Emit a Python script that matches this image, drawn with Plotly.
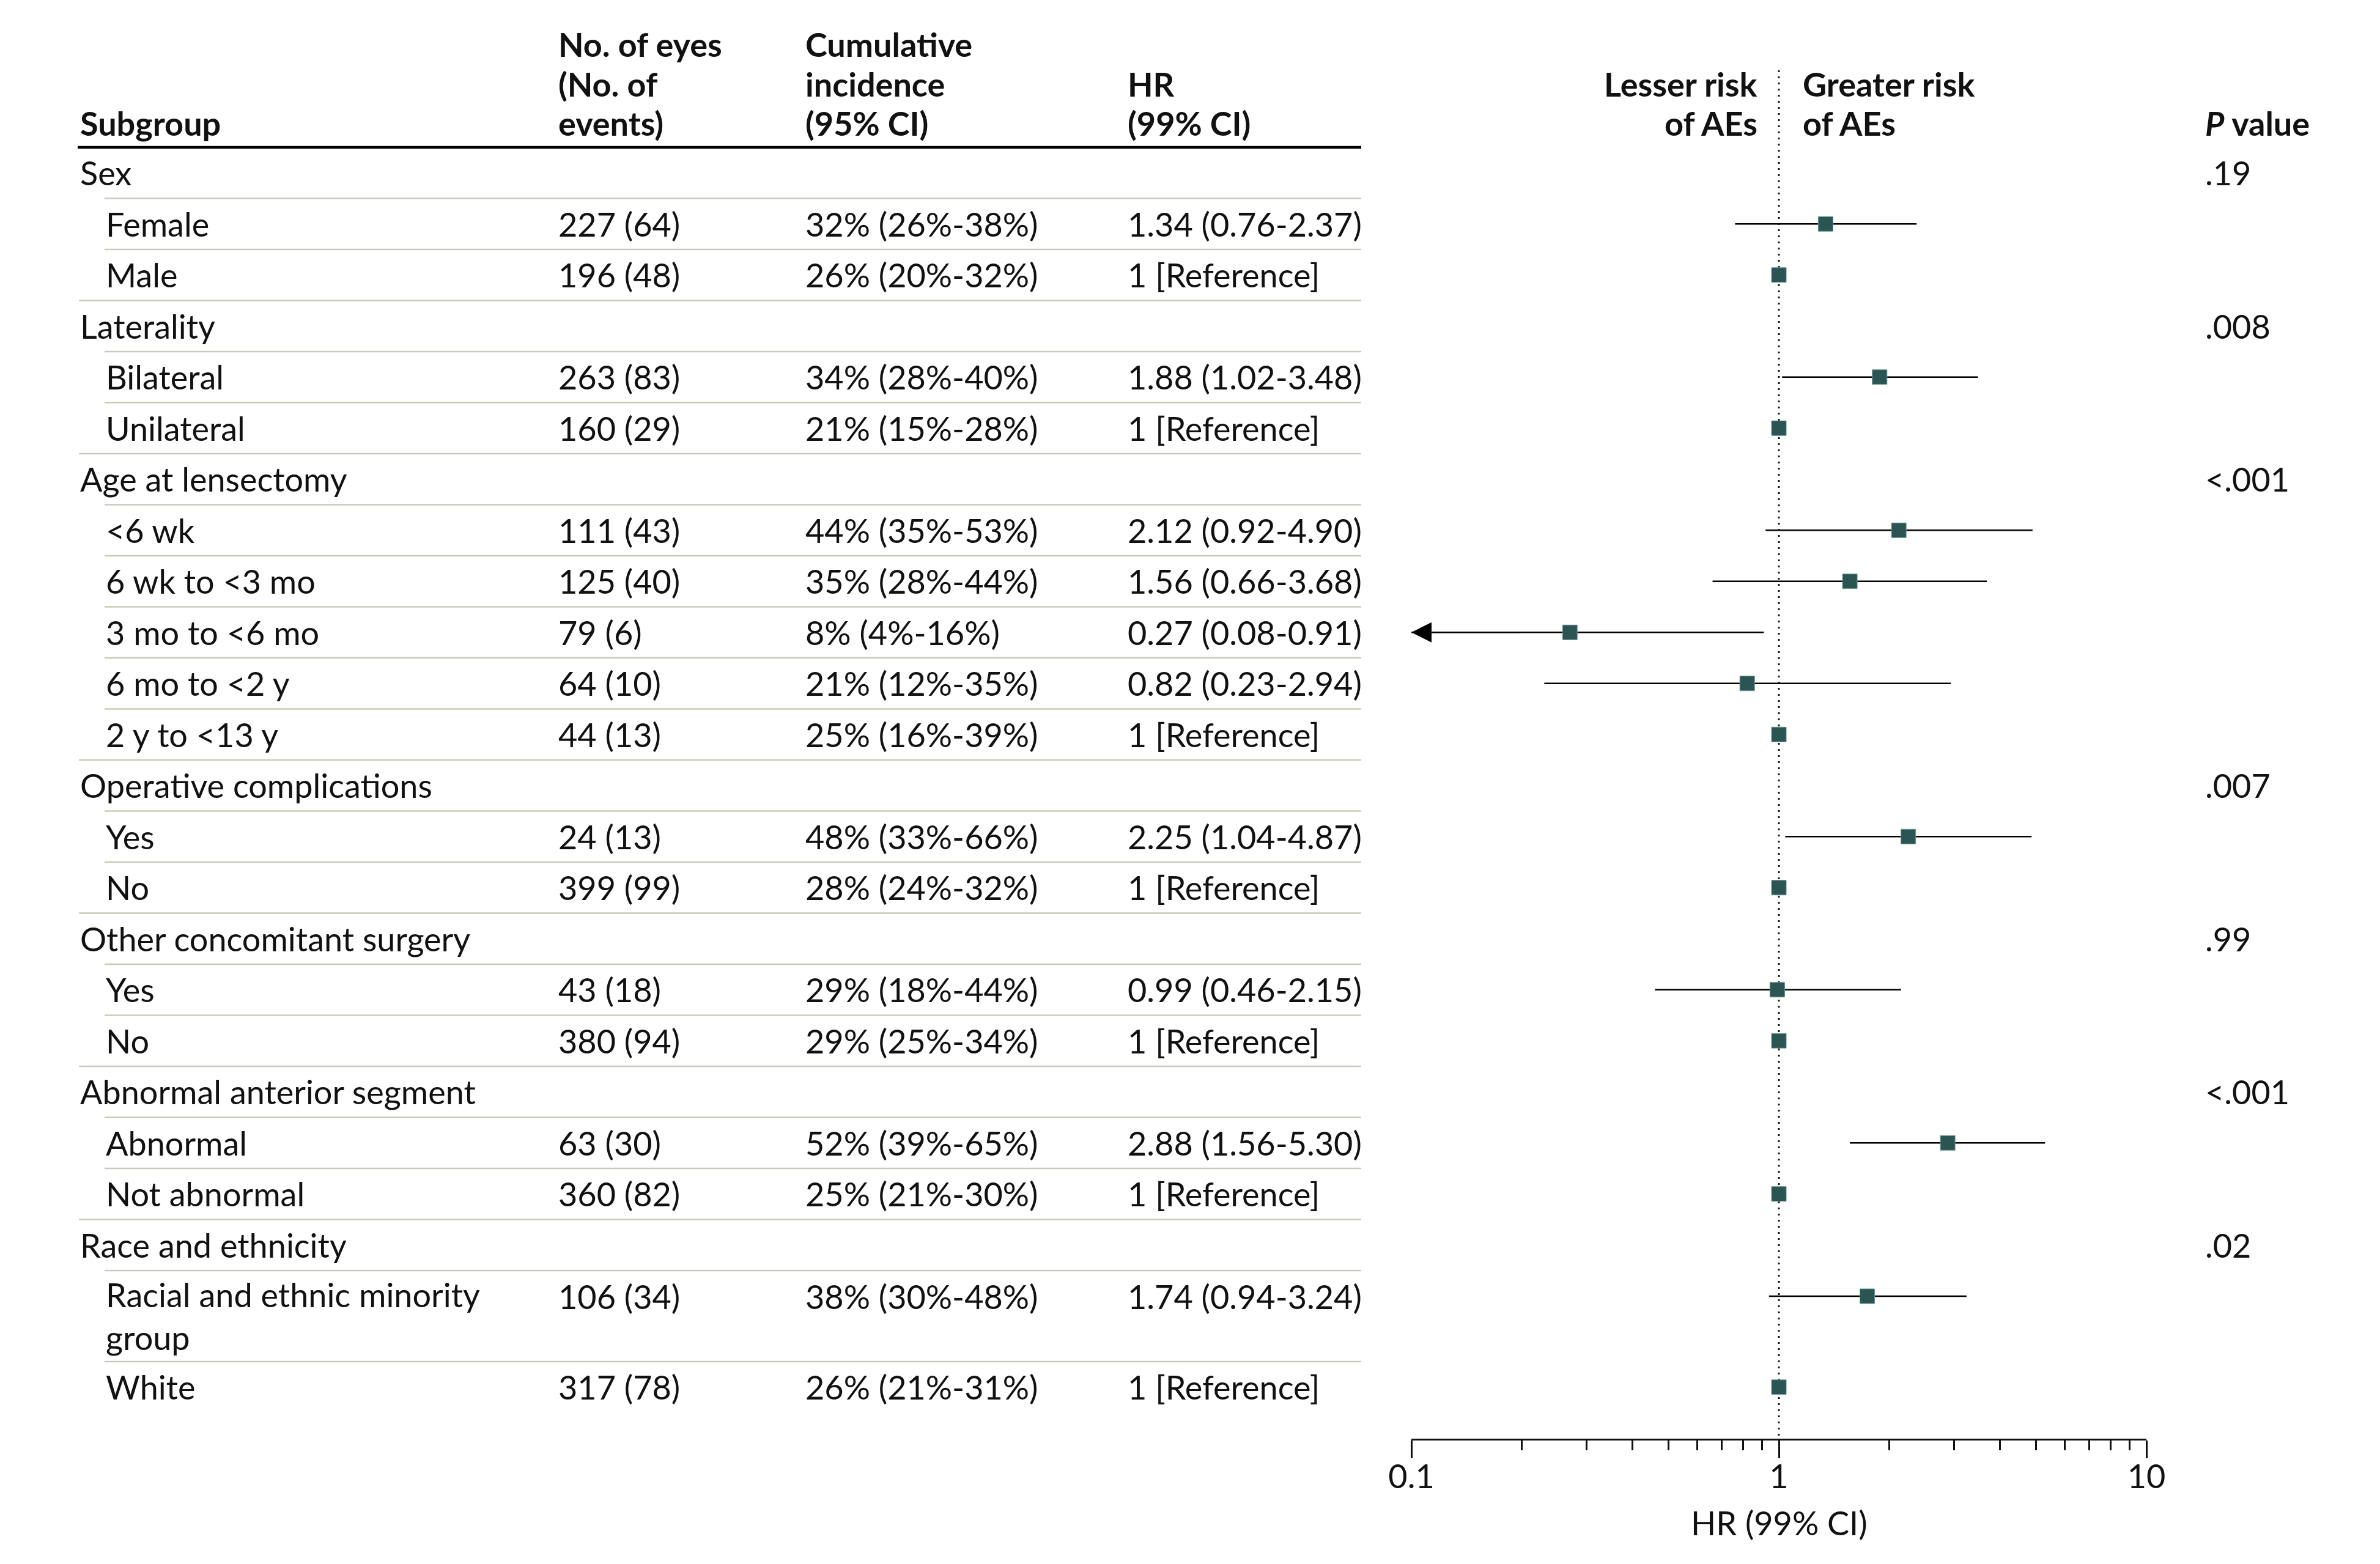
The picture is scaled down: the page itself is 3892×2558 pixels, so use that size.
import plotly.graph_objects as go
import math

# ---------------- data ----------------
subgroups = ["Sex", "Female", "Male", "Laterality", "Bilateral", "Unilateral",
             "Age at lensectomy", "<6 wk", "6 wk to <3 mo", "3 mo to <6 mo", "6 mo to <2 y", "2 y to <13 y",
             "Operative complications", "Yes", "No",
             "Other concomitant surgery", "Yes", "No",
             "Abnormal anterior segment", "Abnormal", "Not abnormal",
             "Race and ethnicity", "Racial and ethnic minority<br>group", "White"]
is_category = [True, False, False, True, False, False,
               True, False, False, False, False, False,
               True, False, False, True, False, False,
               True, False, False, True, False, False]
n_eyes = ["", "227 (64)", "196 (48)", "", "263 (83)", "160 (29)",
          "", "111 (43)", "125 (40)", "79 (6)", "64 (10)", "44 (13)",
          "", "24 (13)", "399 (99)", "", "43 (18)", "380 (94)",
          "", "63 (30)", "360 (82)", "", "106 (34)", "317 (78)"]
cum_inc = ["", "32% (26%-38%)", "26% (20%-32%)", "", "34% (28%-40%)", "21% (15%-28%)",
           "", "44% (35%-53%)", "35% (28%-44%)", "8% (4%-16%)", "21% (12%-35%)", "25% (16%-39%)",
           "", "48% (33%-66%)", "28% (24%-32%)", "", "29% (18%-44%)", "29% (25%-34%)",
           "", "52% (39%-65%)", "25% (21%-30%)", "", "38% (30%-48%)", "26% (21%-31%)"]
hr_text = ["", "1.34 (0.76-2.37)", "1 [Reference]", "", "1.88 (1.02-3.48)", "1 [Reference]",
           "", "2.12 (0.92-4.90)", "1.56 (0.66-3.68)", "0.27 (0.08-0.91)", "0.82 (0.23-2.94)", "1 [Reference]",
           "", "2.25 (1.04-4.87)", "1 [Reference]", "", "0.99 (0.46-2.15)", "1 [Reference]",
           "", "2.88 (1.56-5.30)", "1 [Reference]", "", "1.74 (0.94-3.24)", "1 [Reference]"]
hr = [None, 1.34, 1, None, 1.88, 1, None, 2.12, 1.56, 0.27, 0.82, 1,
      None, 2.25, 1, None, 0.99, 1, None, 2.88, 1, None, 1.74, 1]
hr_lo = [None, 0.76, None, None, 1.02, None, None, 0.92, 0.66, 0.08, 0.23, None,
         None, 1.04, None, None, 0.46, None, None, 1.56, None, None, 0.94, None]
hr_hi = [None, 2.37, None, None, 3.48, None, None, 4.90, 3.68, 0.91, 2.94, None,
         None, 4.87, None, None, 2.15, None, None, 5.30, None, None, 3.24, None]
p_values = [".19", "", "", ".008", "", "", "<.001", "", "", "", "", "",
            ".007", "", "", ".99", "", "", "<.001", "", "", ".02", "", ""]

header_cols = [["Subgroup"], ["No. of eyes", "(No. of", "events)"],
               ["Cumulative", "incidence", "(95% CI)"], ["HR", "(99% CI)"]]
tick_vals = [0.1, 1, 10]
tick_text = ["0.1", "1", "10"]
minor_vals = [0.2, 0.3, 0.4, 0.5, 0.6, 0.7, 0.8, 0.9, 2, 3, 4, 5, 6, 7, 8, 9]
axis_min = 0.1

# ---------------- layout constants ----------------
W, H = 3892, 2558
OFF = 8            # default page body margin
FONT = "Lato"
FS = 54
TXT = "#111111"
MARK = "#2b5553"
SEP = "#c6ccba"

x_sub, x_ind, x_n, x_cum, x_hr = 129, 171, 911, 1315, 1842
x_tab_end = 2226
x_p = 3604
plot_x0, plot_x1 = 2308, 3510
header_line_y = 241
row_h = 83.5
tall_h = 149
line_gap = 65
axis_y = 2354

def px(x):
    return (x - OFF) / W

tops = []
y = header_line_y
for lab in subgroups:
    tops.append(y)
    y += tall_h if "<br>" in lab else row_h
heights = [tall_h if "<br>" in lab else row_h for lab in subgroups]
centers, first_line = [], []
for t, h, lab in zip(tops, heights, subgroups):
    centers.append(t + h / 2)
    first_line.append(t + (h - line_gap) / 2 if "<br>" in lab else t + h / 2)

fig = go.Figure()

# CI lines
ex, ey = [], []
for lo, hi, yy in zip(hr_lo, hr_hi, first_line):
    if lo is None:
        continue
    ex += [max(lo, axis_min), hi, None]
    ey += [yy, yy, None]
fig.add_trace(go.Scatter(x=ex, y=ey, mode="lines", line=dict(color="#000000", width=2.6),
                         hoverinfo="skip", showlegend=False))

# reference line at HR = 1
fig.add_trace(go.Scatter(x=[1, 1], y=[115, axis_y], mode="lines",
                         line=dict(color="#111111", width=3, dash="3px,7px"),
                         hoverinfo="skip", showlegend=False))

# point estimates
mx = [v for v in hr if v is not None]
my = [yy for v, yy in zip(hr, first_line) if v is not None]
fig.add_trace(go.Scatter(x=mx, y=my, mode="markers",
                         marker=dict(symbol="square", size=24, color=MARK,
                                     line=dict(color="#6f9794", width=1)),
                         hoverinfo="skip", showlegend=False))

ann, shapes = [], []

# arrows for truncated CIs
for lo, hi, yy in zip(hr_lo, hr_hi, first_line):
    if lo is not None and lo < axis_min:
        ann.append(dict(x=math.log10(axis_min), y=yy, xref="x", yref="y",
                        ax=math.log10(axis_min) + 0.3, ay=yy, axref="x", ayref="y",
                        showarrow=True, arrowhead=2, arrowsize=3.3, arrowwidth=2,
                        arrowcolor="#000000", text="", standoff=0))

def text(x, y, s, anchor="left", bold=False):
    if bold:
        s = "<b>" + s + "</b>"
    ann.append(dict(x=px(x), y=y, xref="paper", yref="y", text=s, showarrow=False,
                    xanchor=anchor, yanchor="middle", align=anchor,
                    font=dict(family=FONT, size=FS, color=TXT)))

header_x = [x_sub, x_n, x_cum, x_hr]
line_ys = [72, 137, 201]
for hx, lines in zip(header_x, header_cols):
    for i, s in enumerate(lines):
        text(hx, line_ys[3 - len(lines) + i], s, bold=True)
text(2876, 137, "Lesser risk", anchor="right", bold=True)
text(2876, 201, "of AEs", anchor="right", bold=True)
text(2946, 137, "Greater risk", anchor="left", bold=True)
text(2946, 201, "of AEs", anchor="left", bold=True)
text(x_p, 201, "<i>P</i> value", bold=True)

for i, lab in enumerate(subgroups):
    c, fy = centers[i], first_line[i]
    text(x_sub if is_category[i] else x_ind, c, lab)
    if n_eyes[i]:
        text(x_n, fy, n_eyes[i])
    if cum_inc[i]:
        text(x_cum, fy, cum_inc[i])
    if hr_text[i]:
        text(x_hr, fy, hr_text[i])
    if p_values[i]:
        text(x_p, c, p_values[i])
    if i < len(subgroups) - 1:
        yb = tops[i + 1]
        x0 = x_sub if is_category[i + 1] else x_ind
        shapes.append(dict(type="line", xref="paper", yref="y", x0=px(x0), x1=px(x_tab_end),
                           y0=yb, y1=yb, line=dict(color=SEP, width=2.4)))

shapes.append(dict(type="line", xref="paper", yref="y", x0=px(127), x1=px(x_tab_end),
                   y0=header_line_y, y1=header_line_y, line=dict(color="#000000", width=4.5)))

ann.append(dict(x=0, y=2490, xref="x", yref="y", text="HR (99% CI)",
                showarrow=False, xanchor="center", yanchor="middle",
                font=dict(family=FONT, size=FS, color=TXT)))

fig.update_layout(
    width=W, height=H, margin=dict(l=0, r=0, t=0, b=0, autoexpand=False),
    paper_bgcolor="white", plot_bgcolor="white",
    annotations=ann, shapes=shapes, showlegend=False,
    xaxis=dict(type="log", range=[-1, 1],
               domain=[px(plot_x0), px(plot_x1)], anchor="free",
               position=1 - (axis_y - OFF) / H,
               showline=True, linecolor="#111111", linewidth=3,
               ticks="outside", ticklen=29, tickwidth=2.5, tickcolor="#111111",
               tickvals=tick_vals, ticktext=tick_text, ticklabelstandoff=-16,
               tickfont=dict(family=FONT, size=FS, color=TXT),
               minor=dict(tickvals=minor_vals, ticks="outside", ticklen=16,
                          tickwidth=2.5, tickcolor="#111111", showgrid=False),
               showgrid=False, zeroline=False, automargin=False),
    yaxis=dict(range=[H + OFF, OFF], domain=[0, 1], visible=False, showgrid=False,
               zeroline=False, automargin=False),
)

fig.write_html("out.html")
